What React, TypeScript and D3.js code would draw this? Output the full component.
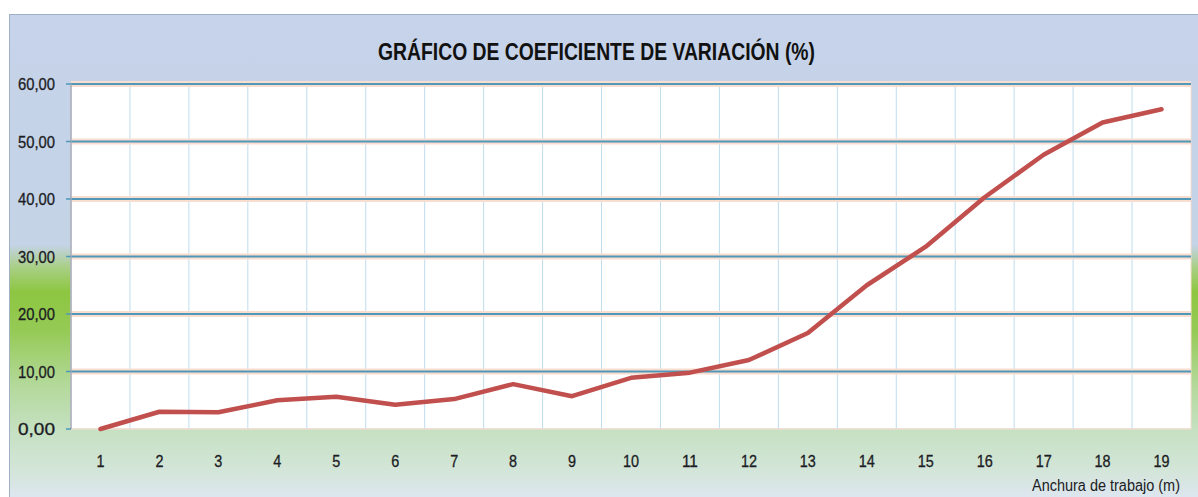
import React from 'react';
import * as d3 from 'd3';

const categories = ['1','2','3','4','5','6','7','8','9','10','11','12','13','14','15','16','17','18','19'];
const cvValues = [0, 3.0, 2.9, 5.0, 5.6, 4.2, 5.2, 7.8, 5.7, 8.9, 9.8, 12.0, 16.7, 25.0, 31.7, 40.3, 47.7, 53.3, 55.6];
const yTicks = [0, 10, 20, 30, 40, 50, 60];
const titleText = 'GRÁFICO DE COEFICIENTE DE VARIACIÓN (%)';
const xAxisTitle = 'Anchura de trabajo  (m)';

const W = 1198;
const H = 497;
const plot = { left: 71, right: 1191, top: 84, bottom: 429 };

export default function App() {
  const x = d3.scaleBand<string>().domain(categories).range([plot.left, plot.right]).padding(0);
  const y = d3.scaleLinear().domain([0, 60]).range([plot.bottom, plot.top]);
  const cx = (c: string) => (x(c) as number) + x.bandwidth() / 2;
  const line = d3
    .line<number>()
    .x((_, i) => cx(categories[i]))
    .y((d) => y(d))
    .curve(d3.curveLinear);
  const fmt = (v: number) => v.toFixed(2).replace('.', ',');
  const font = "'Liberation Sans Narrow', 'Liberation Sans', Arial, sans-serif";

  return (
    <svg width={W} height={H} style={{ position: 'absolute', left: 0, top: 0, background: '#ffffff' }}>
      <defs>
        <linearGradient id="bg" gradientUnits="userSpaceOnUse" x1="0" y1="14" x2="0" y2="497">
          <stop offset={0} stopColor="#c6d3ea" />
          <stop offset={(245 - 14) / 483} stopColor="#c4d3e6" />
          <stop offset={(268 - 14) / 483} stopColor="#a8cf83" />
          <stop offset={(292 - 14) / 483} stopColor="#8dc641" />
          <stop offset={(330 - 14) / 483} stopColor="#95ca55" />
          <stop offset={(385 - 14) / 483} stopColor="#b3d99a" />
          <stop offset={(432 - 14) / 483} stopColor="#c6e1c3" />
          <stop offset={(470 - 14) / 483} stopColor="#d3e5d8" />
          <stop offset={1} stopColor="#dde6ef" />
        </linearGradient>
        <filter id="soft" x="-5%" y="-5%" width="110%" height="110%">
          <feGaussianBlur stdDeviation="0.5" />
        </filter>
      </defs>

      {/* chart area */}
      <rect x={9.5} y={14.5} width={W} height={H} fill="url(#bg)" stroke="#9fb0c6" strokeWidth={1} />

      {/* title */}
      <text
        x={378}
        y={60}
        fontFamily={font}
        fontWeight="bold"
        fontSize={23}
        fill="#111111"
        textLength={437}
        lengthAdjust="spacingAndGlyphs"
      >
        {titleText}
      </text>

      {/* plot area */}
      <rect
        x={plot.left}
        y={plot.top}
        width={plot.right - plot.left}
        height={plot.bottom - plot.top}
        fill="#ffffff"
        stroke="#f6dccd"
        strokeWidth={1}
      />

      {/* vertical gridlines */}
      {categories.map((c, i) =>
        i === 0 ? null : (
          <line
            key={'vg' + c}
            x1={x(c) as number}
            x2={x(c) as number}
            y1={plot.top}
            y2={plot.bottom}
            stroke="#bfdced"
            strokeWidth={1}
          />
        )
      )}

      {/* horizontal gridlines */}
      {yTicks.map((t) =>
        t === 0 ? (
          <line key={'hg' + t} x1={plot.left} x2={plot.right} y1={y(t)} y2={y(t)} stroke="#e9dccf" strokeWidth={1.5} />
        ) : (
          <g key={'hg' + t}>
            <line x1={plot.left} x2={plot.right} y1={y(t)} y2={y(t)} stroke="#f9ddcf" strokeWidth={6} />
            <line x1={plot.left} x2={plot.right} y1={y(t)} y2={y(t)} stroke="#4f98ba" strokeWidth={2} />
          </g>
        )
      )}

      {/* y axis line and ticks */}
      <line x1={plot.left} x2={plot.left} y1={plot.top} y2={plot.bottom} stroke="#a5adbd" strokeWidth={1.5} />
      {yTicks.map((t) => (
        <line key={'yt' + t} x1={plot.left - 5} x2={plot.left} y1={y(t)} y2={y(t)} stroke="#4f98ba" strokeWidth={1.5} />
      ))}

      {/* y tick labels */}
      {yTicks.map((t) => (
        <text
          key={'yl' + t}
          x={18}
          y={y(t) + 6}
          fontFamily={font}
          fontSize={16}
          fill="#1c1c24"
          stroke="#1c1c24"
          strokeWidth={0.3}
          textLength={37}
          lengthAdjust="spacingAndGlyphs"
        >
          {fmt(t)}
        </text>
      ))}

      {/* x tick labels */}
      {categories.map((c) => (
        <text
          key={'xl' + c}
          x={cx(c) - (c.length * 8) / 2}
          y={467}
          fontFamily={font}
          fontSize={16}
          fill="#1c1c24"
          stroke="#1c1c24"
          strokeWidth={0.3}
          textLength={c.length * 8}
          lengthAdjust="spacingAndGlyphs"
        >
          {c}
        </text>
      ))}

      {/* x axis title */}
      <text
        x={1032}
        y={491}
        fontFamily={font}
        fontSize={16}
        fill="#1c1c24"
        textLength={148}
        lengthAdjust="spacingAndGlyphs"
      >
        {xAxisTitle}
      </text>

      {/* data line */}
      <path
        d={line(cvValues) as string}
        fill="none"
        stroke="#c0504d"
        strokeWidth={4.5}
        strokeLinejoin="round"
        strokeLinecap="round"
        filter="url(#soft)"
      />
    </svg>
  );
}
